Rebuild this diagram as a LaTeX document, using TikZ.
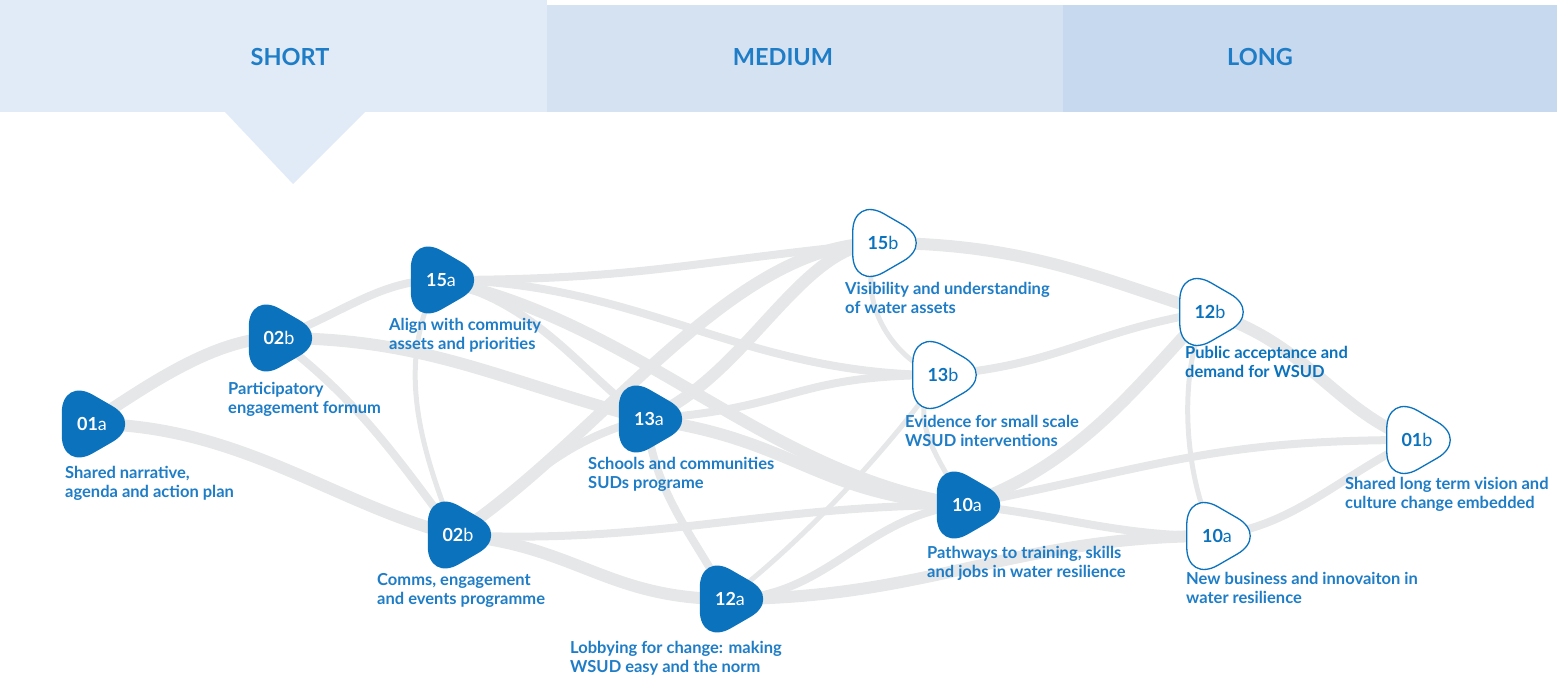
\documentclass[tikz,border=0pt]{standalone}
\usepackage{fontspec}
\setmainfont{Lato}
\usetikzlibrary{shapes,positioning,calc,backgrounds}
\definecolor{wsblue}{HTML}{0B72BD}
\definecolor{wstext}{HTML}{1E7DC6}
\definecolor{wslink}{HTML}{E6E7E8}
\definecolor{wsshort}{HTML}{E1EBF7}
\definecolor{wsmedium}{HTML}{D5E2F2}
\definecolor{wslong}{HTML}{C6D9EE}

\begin{document}
\begin{tikzpicture}[x=1pt,y=-1pt]

    \tikzstyle{stage}=[regular polygon, regular polygon sides=3, shape border rotate=-90, minimum size=109pt, inner sep=0pt, rounded corners=36pt, font=\fontsize{18}{18}\selectfont, execute at begin node={\hspace*{6pt}}];
    \tikzstyle{done}=[stage, fill=wsblue, text=white];
    \tikzstyle{todo}=[stage, draw=wsblue, line width=1.3pt, fill=white, text=wsblue];
    \tikzstyle{lbl}=[anchor=north west, align=left, inner sep=0pt, text=wstext, font=\bfseries\fontsize{16.5}{19.5}\selectfont];
    \tikzstyle{band}=[text=wstext, font=\bfseries\fontsize{23.5}{23.5}\selectfont];
    \tikzstyle{linkA}=[draw=wslink, line width=5pt];
    \tikzstyle{linkB}=[draw=wslink, line width=8pt];
    \tikzstyle{linkC}=[draw=wslink, line width=12pt];

    \useasboundingbox (0,0) rectangle (1557,687);

    % header
    \fill[wsshort] (0,0) rectangle (547,112);
    \fill[wsshort] (225,112) -- (365,112) -- (293,184) -- cycle;
    \fill[wsmedium] (547,5) rectangle (1063,112);
    \fill[wslong] (1063,5) rectangle (1557,112);
    \node (short) at (290,57) [band]{SHORT};
    \node (medium) at (783,57) [band]{MEDIUM};
    \node (long) at (1260,57) [band]{LONG};

    % outcomes
    \node (n01a) at (89,424) [done]{\textbf{01}a};
    \node (n02bt) at (276,338) [done]{\textbf{02}b};
    \node (n15a) at (438,280) [done]{\textbf{15}a};
    \node (n13a) at (646,419) [done]{\textbf{13}a};
    \node (n02bb) at (455,535) [done]{\textbf{02}b};
    \node (n12a) at (727,599) [done]{\textbf{12}a};
    \node (n15b) at (880,243) [todo]{\textbf{15}b};
    \node (n13b) at (940,375) [todo]{\textbf{13}b};
    \node (n10a) at (964,505) [done]{\textbf{10}a};
    \node (n12b) at (1207,312) [todo]{\textbf{12}b};
    \node (n01b) at (1414,440) [todo]{\textbf{01}b};
    \node (n10ar) at (1214,536) [todo]{\textbf{10}a};

    \node (t01a) at (65,466) [lbl]{Shared narrative,\\agenda and action plan};
    \node (t02bt) at (228,382) [lbl]{Participatory\\engagement formum};
    \node (t15a) at (389,318) [lbl]{Align with commuity\\assets and priorities};
    \node (t13a) at (588,457) [lbl]{Schools and communities\\SUDs programe};
    \node (t02bb) at (377,573) [lbl]{Comms, engagement\\and events programme};
    \node (t12a) at (570,641) [lbl]{Lobbying for change: making\\WSUD easy and the norm};
    \node (t15b) at (845,282) [lbl]{Visibility and understanding\\of water assets};
    \node (t13b) at (905,415) [lbl]{Evidence for small scale\\WSUD interventions};
    \node (t10a) at (927,546) [lbl]{Pathways to training, skills\\and jobs in water resilience};
    \node (t12b) at (1185,346) [lbl, text=wsblue]{Public acceptance and\\demand for WSUD};
    \node (t01b) at (1345,477) [lbl]{Shared long term vision and\\culture change embedded};
    \node (t10ar) at (1186,572) [lbl]{New business and innovaiton in\\water resilience};

    % links
    \begin{pgfonlayer}{background}
      \draw[linkC] (n01a.center) .. controls +(60,-40) and +(-60,0) .. (n02bt.center);
      \draw[linkC] (n01a.center) .. controls +(150,0) and +(-120,-30) .. (n02bb.center);
      \draw[linkB] (n02bt.center) .. controls +(60,-20) and +(-60,0) .. (n15a.center);
      \draw[linkC] (n02bt.center) .. controls +(150,0) and +(-150,-40) .. (n13a.center);
      \draw[linkB] (n02bt.center) .. controls +(80,60) and +(-60,-80) .. (n02bb.center);
      \draw[linkB] (n15a.center) .. controls +(200,0) and +(-200,20) .. (n15b.center);
      \draw[linkB] (n15a.center) .. controls +(200,0) and +(-200,0) .. (n13b.center);
      \draw[linkC] (n15a.center) .. controls +(200,40) and +(-200,-30) .. (n10a.center);
      \draw[linkA] (n15a.center) .. controls +(-40,80) and +(-40,-100) .. (n02bb.center);
      \draw[linkB] (n15a.center) .. controls +(100,20) and +(-60,-40) .. (n13a.center);
      \draw[linkC] (n13a.center) .. controls +(100,-40) and +(-80,0) .. (n15b.center);
      \draw[linkB] (n13a.center) .. controls +(150,-10) and +(-150,0) .. (n13b.center);
      \draw[linkC] (n13a.center) .. controls +(150,20) and +(-150,-10) .. (n10a.center);
      \draw[linkB] (n13a.center) .. controls +(10,80) and +(-30,-60) .. (n12a.center);
      \draw[linkC] (n02bb.center) .. controls +(150,-100) and +(-150,0) .. (n15b.center);
      \draw[linkB] (n02bb.center) .. controls +(80,-60) and +(-80,20) .. (n13a.center);
      \draw[linkC] (n02bb.center) .. controls +(120,10) and +(-120,0) .. (n12a.center);
      \draw[linkB] (n02bb.center) .. controls +(200,10) and +(-200,0) .. (n10a.center);
      \draw[linkB] (n12a.center) .. controls +(100,0) and +(-100,10) .. (n10a.center);
      \draw[linkA] (n12a.center) .. controls +(80,-60) and +(-40,60) .. (n13b.center);
      \draw[linkC] (n12a.center) .. controls +(200,0) and +(-200,0) .. (n10ar.center);
      \draw[linkC] (n15b.center) .. controls +(150,0) and +(-100,-30) .. (n12b.center);
      \draw[linkA] (n15b.center) .. controls +(-30,60) and +(-40,-10) .. (n13b.center);
      \draw[linkB] (n13b.center) .. controls +(120,-10) and +(-120,20) .. (n12b.center);
      \draw[linkA] (n13b.center) .. controls +(-40,40) and +(-20,-40) .. (n10a.center);
      \draw[linkC] (n10a.center) .. controls +(120,-40) and +(-60,60) .. (n12b.center);
      \draw[linkB] (n10a.center) .. controls +(200,-40) and +(-200,0) .. (n01b.center);
      \draw[linkB] (n10a.center) .. controls +(100,10) and +(-100,0) .. (n10ar.center);
      \draw[linkC] (n12b.center) .. controls +(100,30) and +(-80,-30) .. (n01b.center);
      \draw[linkA] (n12b.center) .. controls +(-30,60) and +(-30,-60) .. (n10ar.center);
      \draw[linkB] (n10ar.center) .. controls +(80,-10) and +(-80,40) .. (n01b.center);
    \end{pgfonlayer}

\end{tikzpicture}
\end{document}
